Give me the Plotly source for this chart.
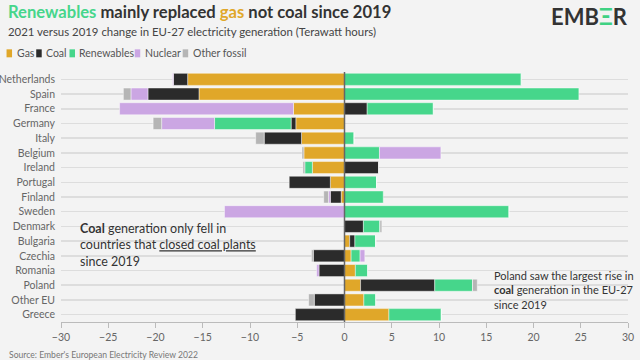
import plotly.graph_objects as go

countries = ["Netherlands", "Spain", "France", "Germany", "Italy", "Belgium", "Ireland",
             "Portugal", "Finland", "Sweden", "Denmark", "Bulgaria", "Czechia", "Romania",
             "Poland", "Other EU", "Greece"]
gas = [-16.6, -15.4, -5.4, -5.15, -4.55, -4.3, -3.4, -1.5, -0.35, 0, 0, 0.55, 0.7, 1.15, 1.7, 2.05, 4.7]
coal = [-1.5, -5.4, 2.4, -0.5, -3.95, 0, 3.6, -4.35, -1.15, 0, 2.0, 0.55, -3.3, -2.7, 7.85, -3.2, -5.2]
renewables = [18.7, 24.8, 7.0, -8.1, 1.0, 3.7, -0.8, 3.4, 4.1, 17.4, 1.75, 2.2, 0.95, 1.3, 4.0, 1.25, 5.55]
nuclear = [-0.1, -1.8, -18.4, -5.6, 0, 6.5, 0, 0, -0.2, -12.7, 0, 0, 0.5, -0.25, 0, 0, 0]
other_fossil = [0, -0.8, 0, -0.9, -0.9, -0.2, -0.2, 0, -0.5, 0, 0.2, 0, -0.2, 0, 0.5, -0.6, 0]

series_names = ["Gas", "Coal", "Renewables", "Nuclear", "Other fossil"]
series_values = [gas, coal, renewables, nuclear, other_fossil]
colors = ["#e0a729", "#2b2b2b", "#46d68b", "#cba6e3", "#b5b5b5"]

tick_vals = [-30, -25, -20, -15, -10, -5, 0, 5, 10, 15, 20, 25, 30]

FONT = "Lato"
BG = "#f3f3f3"
W_PX, H_PX = 640, 360
L, R, T, B = 60.5, 12, 72, 37.6
PW, PH = W_PX - L - R, H_PX - T - B


def px(x):
    return (x - L) / PW


def py(y):
    return (H_PX - B - y) / PH


fig = go.Figure()
for name, vals, col in zip(series_names, series_values, colors):
    fig.add_trace(go.Bar(
        y=countries, x=vals, name=name, orientation="h",
        marker=dict(color=col, line=dict(color="rgba(255,255,255,0.55)", width=0.8)),
        showlegend=False,
    ))

annotations = []
shapes = []

# Title
annotations.append(dict(
    xref="paper", yref="paper", x=px(5), y=py(12), xanchor="left", yanchor="middle",
    text="<b><span style='color:#46d68b'>Renewables</span> mainly replaced "
         "<span style='color:#e0a729'>gas</span> not coal since 2019</b>",
    showarrow=False, font=dict(family=FONT, size=16.6, color="#333333")))
# Subtitle
annotations.append(dict(
    xref="paper", yref="paper", x=px(5), y=py(31.5), xanchor="left", yanchor="middle",
    text="2021 versus 2019 change in EU-27 electricity generation (Terawatt hours)",
    showarrow=False, font=dict(family=FONT, size=11.4, color="#444444")))
# Logo
annotations.append(dict(
    xref="paper", yref="paper", x=px(630), y=py(0.5), xanchor="right", yanchor="top",
    text="<b>EMB<span style='color:#3fd283'>Ξ</span>R</b>",
    showarrow=False, font=dict(family=FONT, size=22, color="#333333")))
# Legend
leg_sq = [6, 35.7, 69, 134.3, 182.3]
for name, col, sx in zip(series_names, colors, leg_sq):
    shapes.append(dict(type="rect", xref="paper", yref="paper",
                       x0=px(sx), x1=px(sx + 5.5), y0=py(57.3), y1=py(49.3),
                       fillcolor=col, line=dict(width=0)))
    annotations.append(dict(
        xref="paper", yref="paper", x=px(sx + 8), y=py(53.3), xanchor="left", yanchor="middle",
        text=name, showarrow=False, font=dict(family=FONT, size=10.5, color="#555555")))
# Notes
annotations.append(dict(
    xref="paper", yref="paper", x=px(78), y=py(245.5), xanchor="left", yanchor="middle",
    align="left",
    text="<b>Coal</b> generation only fell in<br>countries that <u>closed coal plants</u><br>since 2019",
    showarrow=False, font=dict(family=FONT, size=12.5, color="#333333")))
annotations.append(dict(
    xref="paper", yref="paper", x=px(492), y=py(290.5), xanchor="left", yanchor="middle",
    align="left",
    text="Poland saw the largest rise in<br><b>coal</b> generation in the EU-27<br>since 2019",
    showarrow=False, font=dict(family=FONT, size=11, color="#333333")))
# Source
annotations.append(dict(
    xref="paper", yref="paper", x=px(6), y=py(355), xanchor="left", yanchor="middle",
    text="Source: Ember's European Electricity Review 2022",
    showarrow=False, font=dict(family=FONT, size=8.6, color="#777777")))

# zero line above bars
shapes.append(dict(type="line", xref="x", yref="paper", x0=0, x1=0, y0=0, y1=1,
                   line=dict(color="#666666", width=1.5), layer="above"))

fig.update_layout(
    width=W_PX, height=H_PX, autosize=False,
    margin=dict(l=L, r=R, t=T, b=B, pad=0, autoexpand=False),
    paper_bgcolor=BG, plot_bgcolor=BG,
    barmode="relative", bargap=0.18,
    font=dict(family=FONT, color="#666666"),
    xaxis=dict(range=[-30, 30], tickvals=tick_vals, showgrid=False, zeroline=False,
               showline=True, linecolor="#bbbbbb", linewidth=1, automargin=False,
               ticks="outside", ticklen=5, tickcolor="#bbbbbb",
               tickfont=dict(family=FONT, size=10.5, color="#666666"), fixedrange=True),
    yaxis=dict(autorange="reversed", showgrid=True, gridcolor="#dddddd", gridwidth=1.5,
               ticks="", ticklabelstandoff=5, showline=False, zeroline=False, automargin=False,
               tickfont=dict(family=FONT, size=10.5, color="#666666")),
    annotations=annotations, shapes=shapes, showlegend=False,
)

fig.write_html("out.html", config={"displayModeBar": False, "staticPlot": True},
               post_script="document.body.style.margin='0';document.body.style.overflow='hidden';"
                           "document.body.style.background='" + BG + "';")
